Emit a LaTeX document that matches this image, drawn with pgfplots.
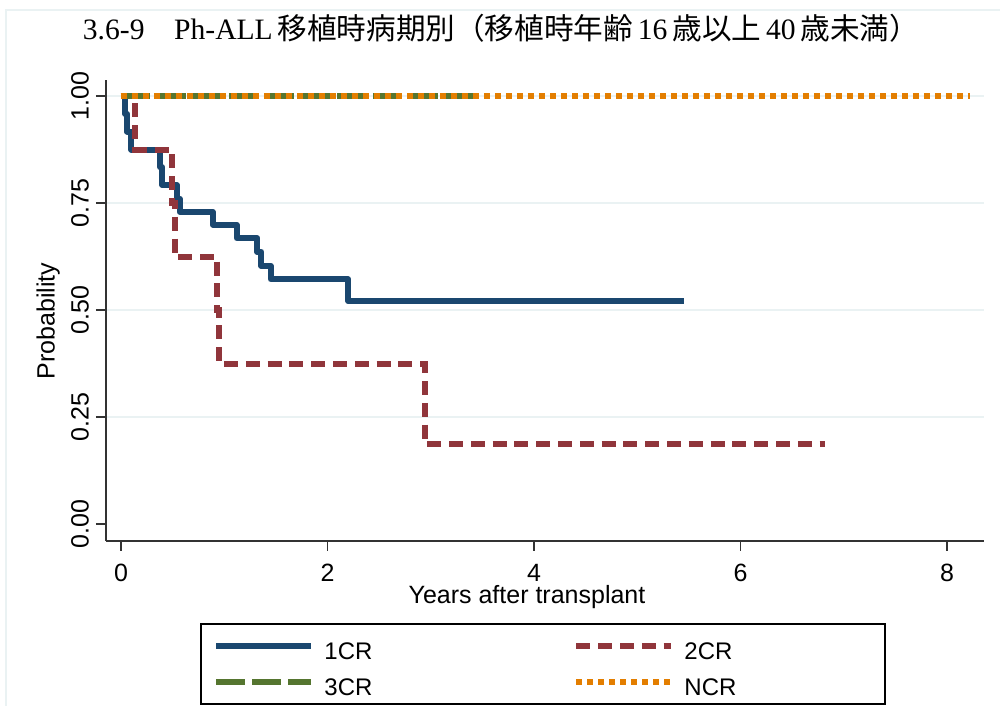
\documentclass[border=0pt]{standalone}
\usepackage{pgfplots}
\pgfplotsset{compat=1.18}
\usepackage{fontspec}
\setmainfont{Liberation Sans}
\newfontfamily\seriffont{Liberation Serif}
\newfontfamily\cjk{Noto Sans CJK JP}
\definecolor{sNavy}{RGB}{26,71,111}
\definecolor{sMaroon}{RGB}{144,53,59}
\definecolor{sGreen}{RGB}{85,117,47}
\definecolor{sOrange}{RGB}{227,126,0}
\definecolor{sGrid}{RGB}{234,242,243}

\pgfplotstableread{
x y
0 1
0.04 0.958
0.06 0.917
0.10 0.875
0.38 0.833
0.40 0.792
0.54 0.760
0.57 0.729
0.89 0.699
1.12 0.668
1.32 0.636
1.36 0.603
1.45 0.572
2.20 0.521
5.45 0.521
}\oneCR
\pgfplotstableread{
x y
0 1
0.14 0.875
0.49 0.75
0.52 0.625
0.93 0.5
0.945 0.375
2.94 0.1875
6.82 0.1875
}\twoCR
\pgfplotstableread{
x y
0 1
3.46 1
}\threeCR
\pgfplotstableread{
x y
0 1
8.22 1
}\NCR

\begin{document}
\begin{tikzpicture}
\path[use as bounding box] (0,0) rectangle (500pt,353pt);
\draw[sGrid, line width=1pt] (3pt,0) -- (3pt,348pt) -- (500pt,348pt);
\node[font=\fontsize{14.8}{17}\selectfont] at (250.5pt,339pt)
  {\seriffont 3.6-9\hspace{1em}Ph-ALL\,\cjk 移植時病期別（移植時年齢\,\seriffont 16\,\cjk 歳以上\,\seriffont 40\,\cjk 歳未満）};
\begin{axis}[
  at={(53pt,82.5pt)}, anchor=south west,
  scale only axis, width=439pt, height=230.5pt,
  xmin=-0.145, xmax=8.358, ymin=-0.0397, ymax=1.0374,
  axis x line*=bottom, axis y line*=left,
  axis line style={draw=black!80, line width=0.75pt, -},
  tick style={black!80, line width=0.75pt},
  major tick length=5pt, tick align=outside,
  xtick={0,2,4,6,8}, xticklabels={0,2,4,6,8},
  ytick={0.25,0.5,0.75,1}, yticklabels={0.25,0.50,0.75,1.00},
  extra y ticks={0}, extra y tick labels={0.00},
  extra y tick style={grid=none},
  ymajorgrids, major grid style={sGrid, line width=1pt},
  ticklabel style={font=\fontsize{12.5}{15}\selectfont},
  yticklabel style={rotate=90, anchor=south},
  xticklabel style={yshift=-3pt},
  xlabel={Years after transplant},
  ylabel={Probability},
  label style={font=\fontsize{12.5}{15}\selectfont},
  xlabel style={at={(axis description cs:0.4795,-0.1215)}, anchor=center},
  ylabel style={at={(axis description cs:-0.066,0.477)}, anchor=center, rotate=0},
  legend columns=2,
  legend cell align=left,
  legend image code/.code={\draw[#1] (0pt,0pt) -- (47.5pt,0pt);},
  legend style={draw=none, fill=none, inner sep=0pt,
    at={(axis description cs:0.1219,-0.1913)}, anchor=north west,
    font=\fontsize{12}{14}\selectfont,
    nodes={inner sep=0pt, text height=15pt, text depth=1.8pt},
    row sep=1.2pt, column sep=0pt,
    /tikz/every odd column/.append style={column sep=5pt},
    /tikz/every even column/.append style={column sep=100.5pt}},
]
\addplot[const plot, sNavy, line width=3pt, line join=round] table {\oneCR};
\addlegendentry{1CR}
\addplot[const plot, sMaroon, line width=3pt, dash pattern=on 7pt off 3.9pt] table {\twoCR};
\addlegendentry{2CR}
\addplot[const plot, sGreen, line width=3pt, dash pattern=on 14.5pt off 3.5pt] table {\threeCR};
\addlegendentry{3CR}
\addplot[const plot, sOrange, line width=3pt, dash pattern=on 3pt off 2.5pt] table {\NCR};
\addlegendentry{NCR}
\end{axis}
\draw[black, line width=1pt] (100.5pt,1pt) rectangle (442.5pt,41pt);
\end{tikzpicture}
\end{document}
